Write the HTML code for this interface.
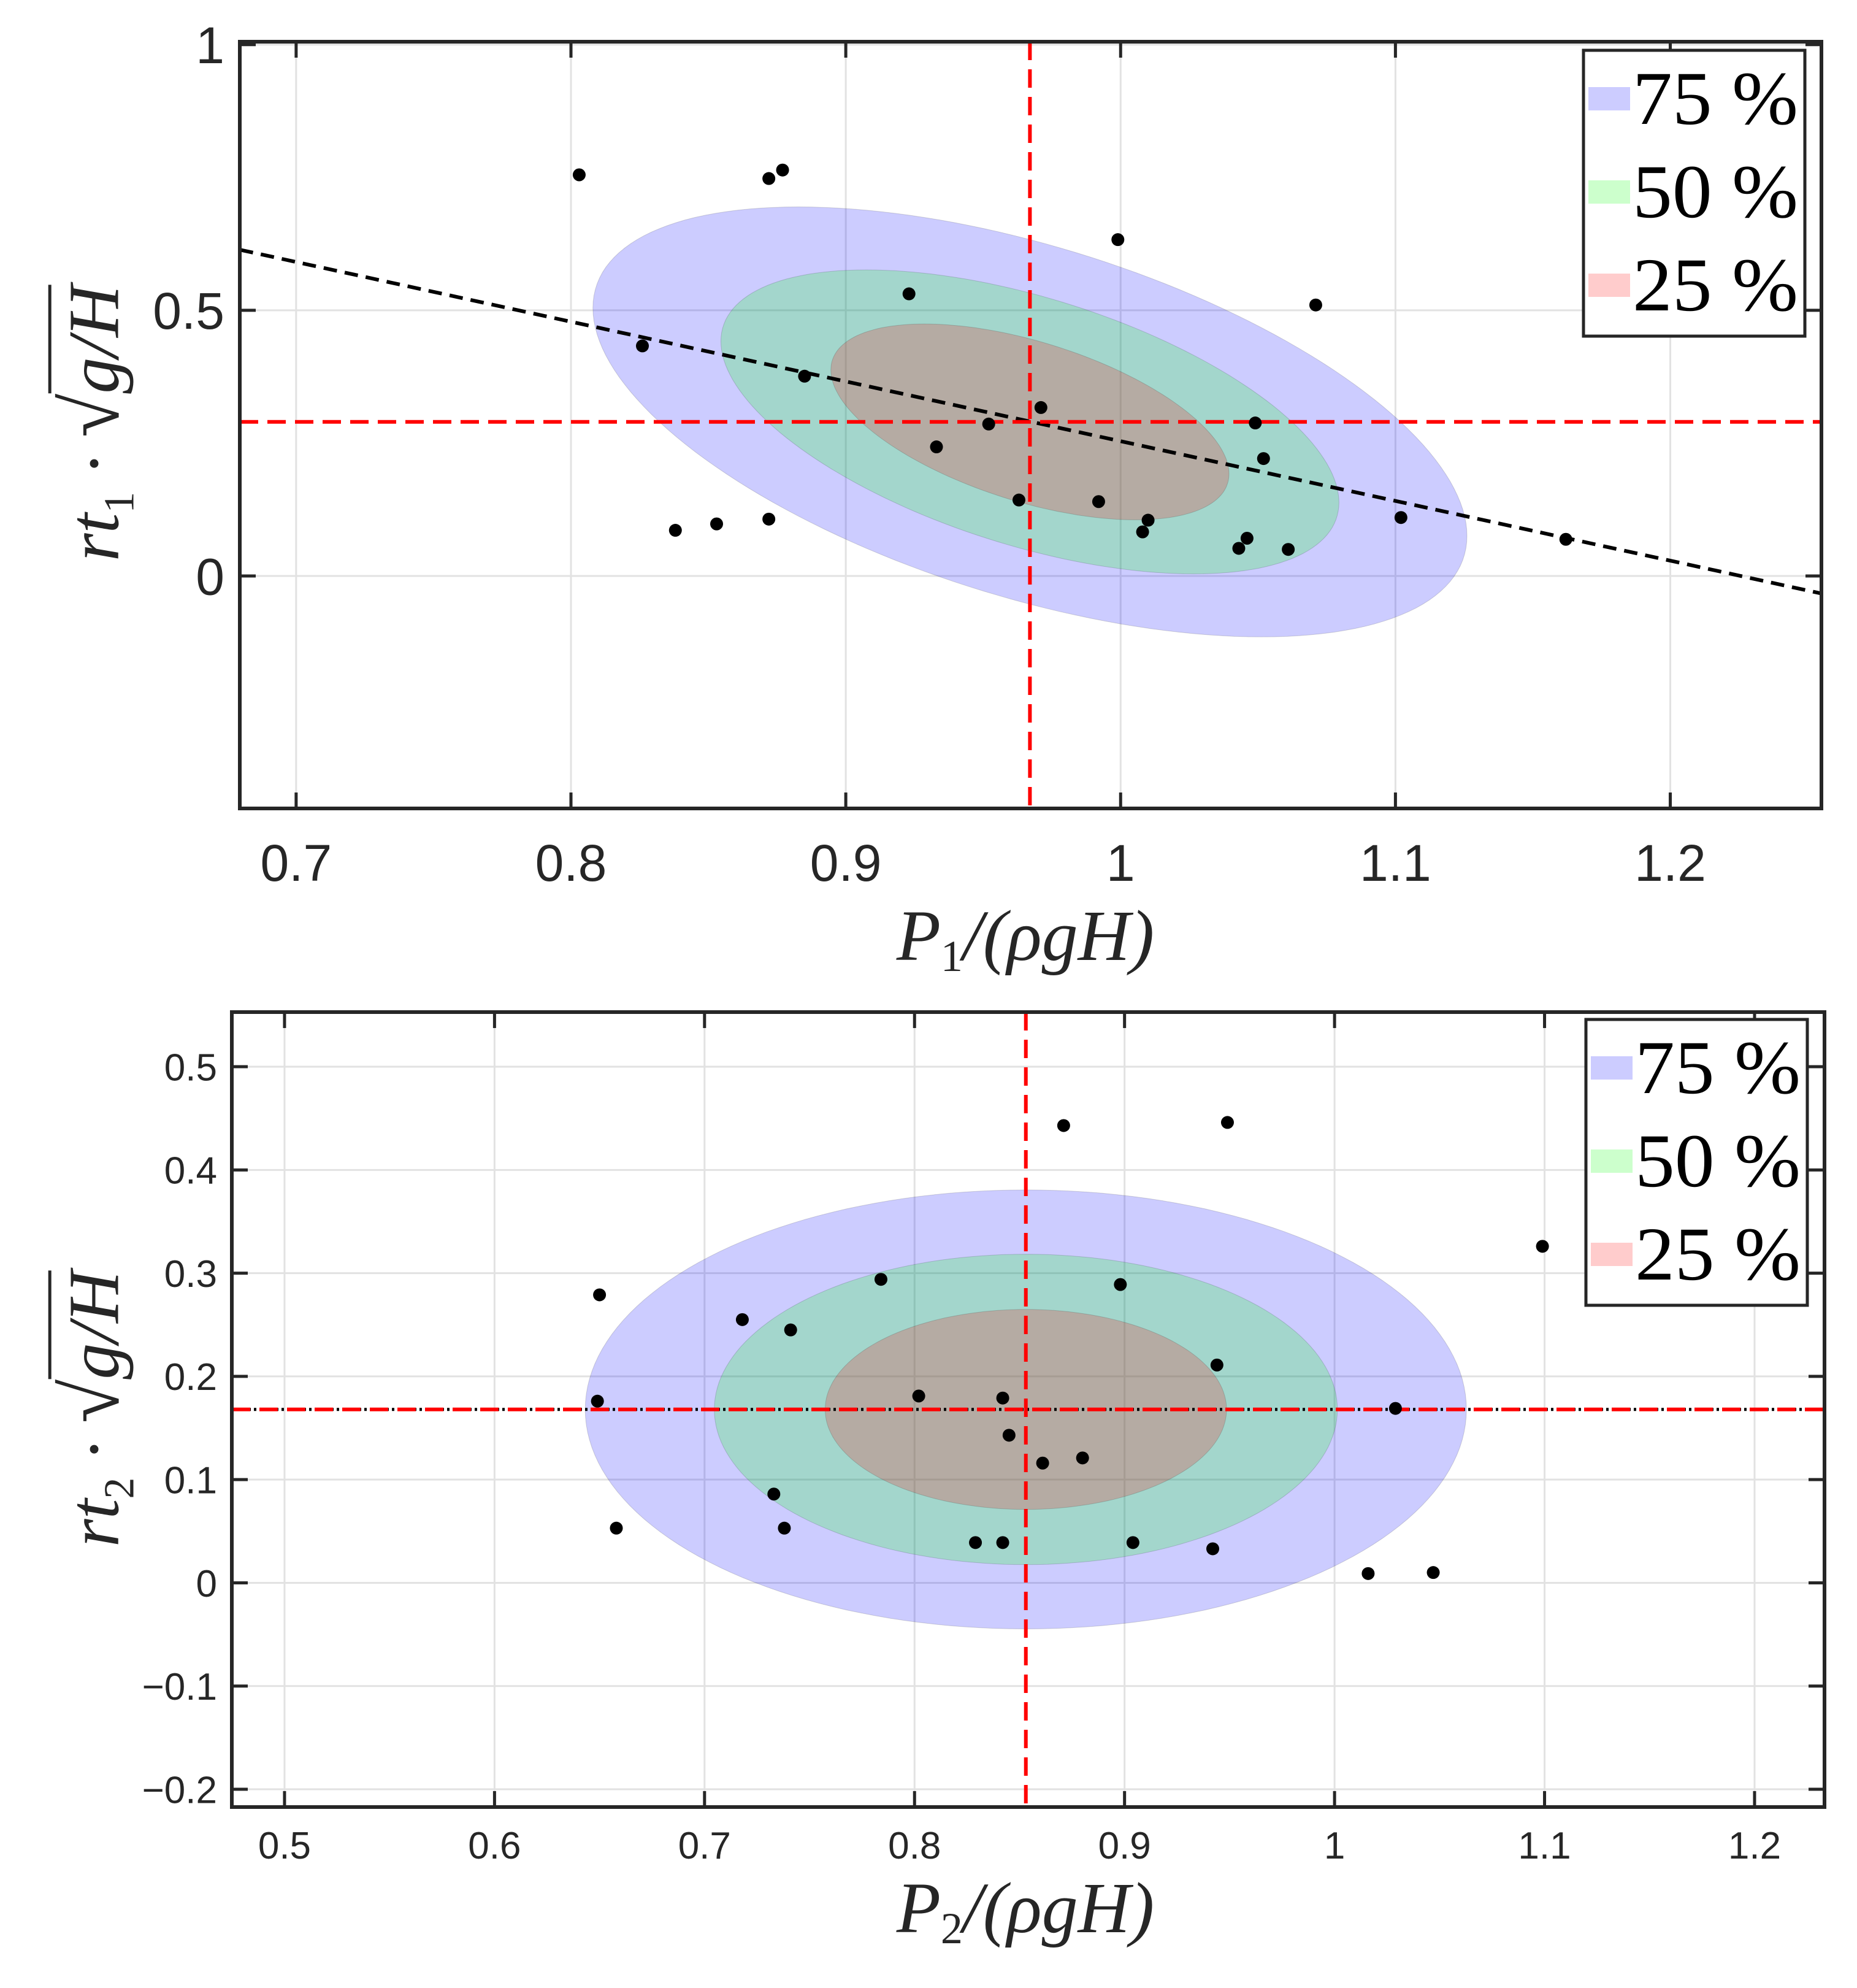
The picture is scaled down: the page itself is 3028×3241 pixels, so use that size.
<!DOCTYPE html>
<html><head><meta charset="utf-8">
<style>
html,body{margin:0;padding:0;background:#fff;}
#wrap{position:relative;width:3028px;height:3241px;overflow:hidden;}
svg{position:absolute;left:0;top:0;}
.ylab{position:absolute;font-family:"Liberation Serif",serif;font-style:italic;font-size:118px;color:#262626;white-space:nowrap;transform:translate(-50%,-50%) rotate(-90deg);}
.ylab .rad{border-top:5px solid #262626;padding-top:4px;}
.ylab .sq{font-style:normal;font-size:130px;}
</style></head>
<body>
<div id="wrap">
<svg id="svg" width="3028" height="3241" xmlns="http://www.w3.org/2000/svg"></svg>
<div class="ylab" style="left:155px;top:690px;">rt<sub style="font-size:70px;font-style:normal">1</sub> · <span class="sq">√</span><span class="rad">g/H</span></div>
<div class="ylab" style="left:155px;top:2297px;">rt<sub style="font-size:70px;font-style:normal">2</sub> · <span class="sq">√</span><span class="rad">g/H</span></div>
</div>
<script>
// ---- data: top panel ----
const p1X = [0.803,0.872,0.877,0.999,0.923,1.071,0.826,0.885,0.971,0.952,1.049,0.933,1.052,0.963,0.992,1.010,1.008,1.102,0.838,0.853,0.872,1.046,1.043,1.061,1.162];
const p1Y = [0.755,0.748,0.764,0.633,0.531,0.510,0.433,0.376,0.317,0.286,0.288,0.243,0.221,0.143,0.140,0.105,0.083,0.110,0.086,0.098,0.107,0.071,0.052,0.050,0.069];
const p1Center = [0.967, 0.290];
const p1Sigma = [0.0955, 0.243];
const p1Rho = [-0.53];
const p1FitLine = [[0.6795,0.614],[1.255,-0.033]];
const p1XTicks = [0.7,0.8,0.9,1,1.1,1.2];
const p1XTickLabels = ["0.7","0.8","0.9","1","1.1","1.2"];
const p1YTicks = [0,0.5,1];
const p1YTickLabels = ["0","0.5","1"];
// ---- data: bottom panel ----
const p2X = [0.871,0.949,1.099,0.784,0.898,0.650,0.718,0.741,0.944,0.802,0.842,0.649,1.029,0.845,0.861,0.880,0.733,0.658,0.738,0.829,0.842,0.904,0.942,1.016,1.047];
const p2Y = [0.443,0.446,0.326,0.294,0.289,0.279,0.255,0.245,0.211,0.181,0.179,0.176,0.169,0.143,0.116,0.121,0.086,0.053,0.053,0.039,0.039,0.039,0.033,0.009,0.010];
const p2Center = [0.853, 0.168];
const p2Sigma = [0.126, 0.1277];
const p2Rho = [0.0];
const p2XTicks = [0.5,0.6,0.7,0.8,0.9,1,1.1,1.2];
const p2XTickLabels = ["0.5","0.6","0.7","0.8","0.9","1","1.1","1.2"];
const p2YTicks = [-0.2,-0.1,0,0.1,0.2,0.3,0.4,0.5];
const p2YTickLabels = ["\u22120.2","\u22120.1","0","0.1","0.2","0.3","0.4","0.5"];
const levels = ["75 %","50 %","25 %"];
const levelProb = [0.75,0.5,0.25];

const NS="http://www.w3.org/2000/svg";
const svg=document.getElementById('svg');
function mk(tag,attrs,parent){const e=document.createElementNS(NS,tag);for(const k in attrs)e.setAttribute(k,attrs[k]);(parent||svg).appendChild(e);return e;}

function panel(o){
  const sx=v=>o.L+(v-o.x0)/(o.x1-o.x0)*(o.R-o.L);
  const sy=v=>o.B-(v-o.y0)/(o.y1-o.y0)*(o.B-o.T);
  const g=mk('g',{});
  
  
  o.xt.forEach((t,i)=>{const l=mk('line',{x1:sx(t),x2:sx(t),y1:o.T,y2:o.B,stroke:'#e2e2e2','stroke-width':3},g);
    
    });
  o.yt.forEach((t,i)=>{const l=mk('line',{x1:o.L,x2:o.R,y1:sy(t),y2:sy(t),stroke:'#e2e2e2','stroke-width':3},g);
    
    });
  const fills=['rgba(0,0,255,0.2)','rgba(0,255,0,0.2)','rgba(255,0,0,0.2)'];
  const names=['ellipse-75','ellipse-50','ellipse-25'];
  levelProb.forEach((p,i)=>{
    const k=Math.sqrt(-2*Math.log(1-p));
    const r=o.rho[0];let d='';
    for(let j=0;j<=180;j++){const t=j/180*2*Math.PI;
      const u=Math.cos(t),v=Math.sin(t);
      const x=o.c[0]+k*o.s[0]*u;
      const y=o.c[1]+k*o.s[1]*(r*u+Math.sqrt(1-r*r)*v);
      d+=(j?'L':'M')+sx(x).toFixed(1)+','+sy(y).toFixed(1);}
    const e=mk('path',{d:d+'Z',fill:fills[i],stroke:'rgba(0,0,0,0.15)','stroke-width':1},g);
    
    
  });
  if(o.fit){const l=mk('line',{x1:sx(o.fit[0][0]),y1:sy(o.fit[0][1]),x2:sx(o.fit[1][0]),y2:sy(o.fit[1][1]),stroke:'#000','stroke-width':6,'stroke-dasharray':'22,13'},g);
    
    }
  else{const l=mk('line',{x1:o.L,y1:sy(o.c[1]),x2:o.R,y2:sy(o.c[1]),stroke:'#000','stroke-width':5,'stroke-dasharray':'4,5'},g);
    
    }
  const vl=mk('line',{x1:sx(o.c[0]),x2:sx(o.c[0]),y1:o.T,y2:o.B,stroke:'#ff0000','stroke-width':6,'stroke-dasharray':'30,15'},g);
  
  
  const hl=mk('line',{x1:o.L,x2:o.R,y1:sy(o.c[1]),y2:sy(o.c[1]),stroke:'#ff0000','stroke-width':6,'stroke-dasharray':'30,15'},g);
  
  
  o.px.forEach((x,i)=>{const c=mk('circle',{cx:sx(x),cy:sy(o.py[i]),r:10.5,fill:'#000'},g);
    
    });
  const bx=mk('rect',{x:o.L,y:o.T,width:o.R-o.L,height:o.B-o.T,fill:'none',stroke:'#262626','stroke-width':6},g);
  
  
  o.xt.forEach((t,i)=>{
    mk('line',{x1:sx(t),x2:sx(t),y1:o.B,y2:o.B-26,stroke:'#262626','stroke-width':5},g);
    mk('line',{x1:sx(t),x2:sx(t),y1:o.T,y2:o.T+26,stroke:'#262626','stroke-width':5},g);
    const tx=mk('text',{x:sx(t),y:o.xly,'text-anchor':'middle','font-family':'Liberation Sans, sans-serif','font-size':o.fs,fill:'#262626'},g);
    tx.textContent=o.xl[i];
    
    });
  o.yt.forEach((t,i)=>{
    mk('line',{x1:o.L,x2:o.L+26,y1:sy(t),y2:sy(t),stroke:'#262626','stroke-width':5},g);
    mk('line',{x1:o.R,x2:o.R-26,y1:sy(t),y2:sy(t),stroke:'#262626','stroke-width':5},g);
    const tx=mk('text',{x:o.ylx,y:sy(t)+o.fs*0.36,'text-anchor':'end','font-family':'Liberation Sans, sans-serif','font-size':o.fs,fill:'#262626'},g);
    tx.textContent=o.yl[i];
    
    });
  const xt=mk('text',{x:o.xtx,y:o.xty,'text-anchor':'middle','font-family':'Liberation Serif, serif','font-style':'italic','font-size':118,fill:'#262626'},g);
  xt.innerHTML='P<tspan font-size="72" font-style="normal" dy="18">'+o.sub+'</tspan><tspan dy="-18">/(ρgH)</tspan>';
  
  
  const lg=mk('g',{},g);
  
  
  mk('rect',{x:o.lg[0],y:o.lg[1],width:361,height:466,fill:'#fff',stroke:'#262626','stroke-width':5},lg);
  const pf=['#ccccff','#ccffcc','#ffcccc'];
  levels.forEach((s,i)=>{
    const yy=o.lg[1]+78+i*152;
    const r=mk('rect',{x:o.lg[0]+8,y:yy-18,width:68,height:38,fill:pf[i]},lg);
    
    
    const t=mk('text',{x:o.lg[0]+80,y:yy+42,'font-family':'Liberation Serif, serif','font-size':124,fill:'#000',textLength:270,lengthAdjust:'spacingAndGlyphs'},lg);
    t.textContent=s;
    
    
  });
}
panel({name:'top-panel',L:391,R:2970,T:68,B:1318,x0:0.6795,x1:1.255,y0:-0.4375,y1:1.0055,
  xt:p1XTicks,xl:p1XTickLabels,yt:p1YTicks,yl:p1YTickLabels,px:p1X,py:p1Y,c:p1Center,s:p1Sigma,rho:p1Rho,fit:p1FitLine,
  fs:84,xly:1436,ylx:366,xtx:1672,xty:1565,sub:'1',lg:[2582,82]});
panel({name:'bottom-panel',L:378,R:2975,T:1650,B:2946,x0:0.4749,x1:1.2333,y0:-0.2172,y1:0.5529,
  xt:p2XTicks,xl:p2XTickLabels,yt:p2YTicks,yl:p2YTickLabels,px:p2X,py:p2Y,c:p2Center,s:p2Sigma,rho:p2Rho,fit:null,
  fs:62,xly:3030,ylx:354,xtx:1672,xty:3150,sub:'2',lg:[2586,1662]});
</script>
</body></html>
